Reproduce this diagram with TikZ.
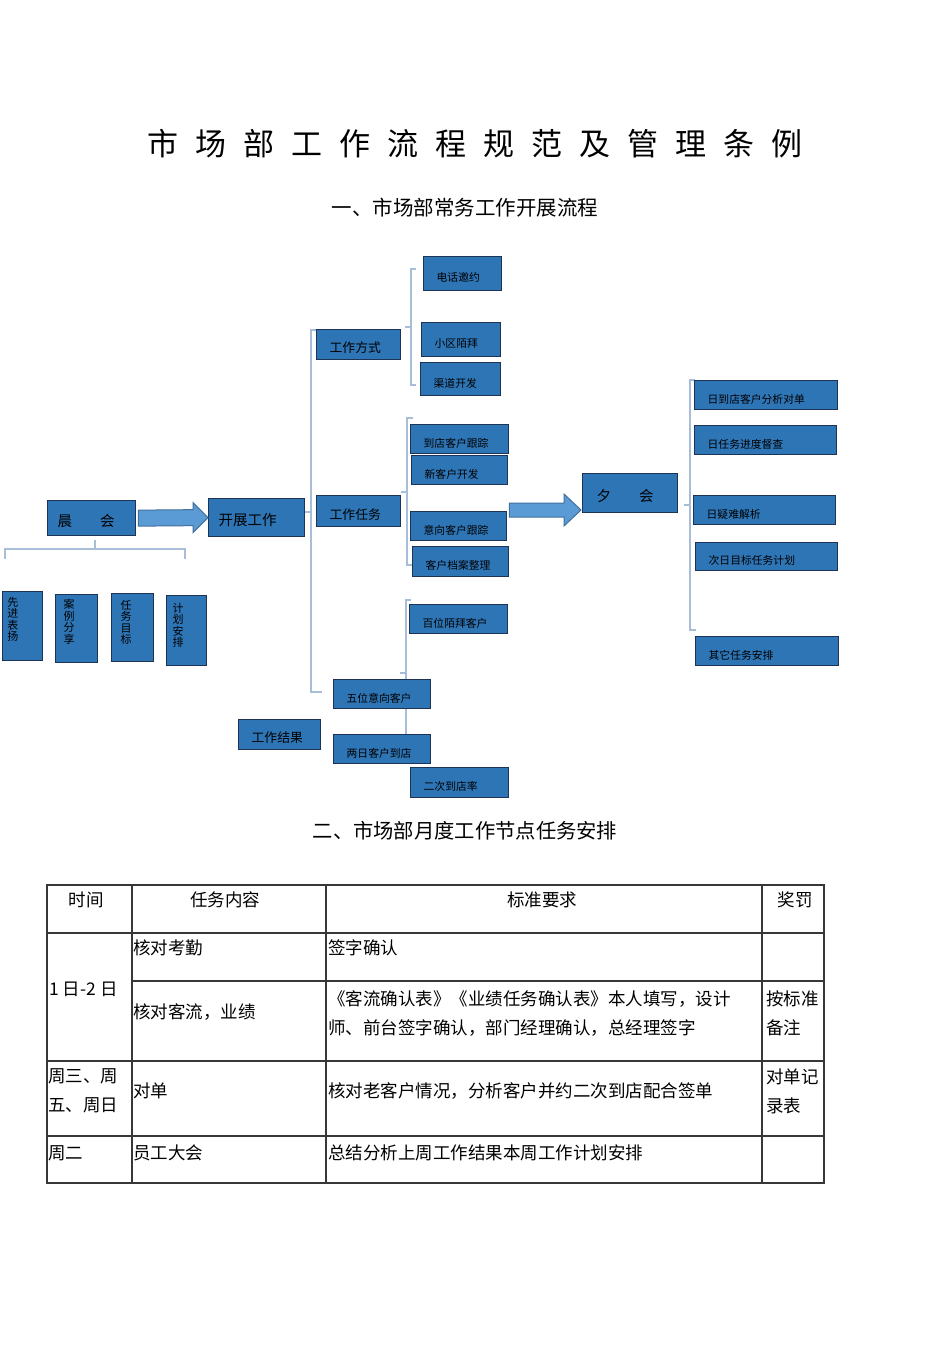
\documentclass[tikz,border=0pt]{standalone}
\usepackage{fontspec}
\setmainfont{Noto Sans CJK SC}
\usetikzlibrary{calc}
\definecolor{boxBlue}{RGB}{46,117,182}
\definecolor{boxEdge}{RGB}{30,52,86}
\definecolor{arrowBlue}{RGB}{91,155,213}
\definecolor{arrowEdge}{RGB}{65,113,156}
\definecolor{braceBlue}{RGB}{168,190,216}
\definecolor{gridGray}{RGB}{55,55,55}

\begin{document}
\begin{tikzpicture}[x=1pt, y=-1pt,
  box/.style={draw=boxEdge, fill=boxBlue, line width=1.3pt, anchor=north west,
              inner xsep=13pt, inner ysep=0pt, text height=16pt, text depth=0pt,
              align=left, font=\fontsize{10.8}{13}\selectfont},
  midbox/.style={box, font=\fontsize{12.8}{15}\selectfont},
  bigbox/.style={box, inner xsep=10pt, font=\fontsize{14.5}{17}\selectfont},
  tallbox/.style={draw=boxEdge, fill=boxBlue, line width=1.3pt, anchor=north west},
  vtext/.style={anchor=north, align=center, inner sep=0pt, font=\fontsize{11}{11.5}\selectfont},
  brace/.style={draw=braceBlue, line width=1.6pt},
  fat/.style={draw=arrowEdge, fill=arrowBlue, line width=1pt, line join=miter},
  grid/.style={draw=gridGray, line width=1.2pt},
  cell/.style={anchor=west, inner sep=0pt, align=left, font=\fontsize{17.5}{29}\selectfont},
  head/.style={cell, anchor=center}
]
\path[fill=white, use as bounding box] (0,0) rectangle (950,1345);

\node[font=\fontsize{31}{36}\selectfont] (title) at (475,144)
  {市\hskip17pt 场\hskip17pt 部\hskip17pt 工\hskip17pt 作\hskip17pt 流\hskip17pt 程\hskip17pt
   规\hskip17pt 范\hskip17pt 及\hskip17pt 管\hskip17pt 理\hskip17pt 条\hskip17pt 例};
\node[font=\fontsize{20.5}{24}\selectfont] (sub1) at (465,208) {一、市场部常务工作开展流程};

% brackets
\draw[brace] (317,330) -- (311,330) -- (311,692) -- (322,692);
\draw[brace] (311,512) -- (304,512);
\draw[brace] (416,269) -- (411,269) -- (411,385) -- (416,385);
\draw[brace] (411,327) -- (405,327);
\draw[brace] (413,418) -- (407,418) -- (407,565) -- (413,565);
\draw[brace] (407,492) -- (401,492);
\draw[brace] (695,380) -- (690,380) -- (690,630) -- (696,630);
\draw[brace] (690,505) -- (684,505);
\draw[brace] (5,559) -- (5,549) -- (185,549) -- (185,559);
\draw[brace] (95,549) -- (95,540);
\draw[brace] (411,600) -- (406,600) -- (406,740);
\draw[brace] (406,673) -- (400,673);

\node[bigbox, text width=68pt, minimum height=35pt] (chenhui) at (47,500) {晨\hskip28pt 会};
\node[bigbox, text width=76pt, minimum height=38pt] (kaizhan) at (208,498) {开展工作};
\node[midbox, text width=58pt, minimum height=30pt] (fangshi) at (316,329) {工作方式};
\node[midbox, text width=58pt, minimum height=31pt] (renwu) at (316,495) {工作任务};
\node[box, text width=52pt, minimum height=34pt] (dianhua) at (423,256) {电话邀约};
\node[box, text width=53pt, minimum height=34pt] (xiaoqu) at (421,322) {小区陌拜};
\node[box, text width=54pt, minimum height=33pt] (qudao) at (420,362) {渠道开发};
\node[box, text width=72pt, minimum height=29pt] (daodian) at (410,424) {到店客户跟踪};
\node[box, text width=70pt, minimum height=29pt] (xinkehu) at (411,455) {新客户开发};
\node[box, text width=70pt, minimum height=29pt] (yixiang) at (410,511) {意向客户跟踪};
\node[box, text width=70pt, minimum height=30pt] (dangan) at (412,546) {客户档案整理};
\node[bigbox, inner xsep=14pt, text width=67pt, minimum height=39pt] (xihui) at (582,473) {夕\hskip28pt 会};
\node[box, text width=117pt, minimum height=29pt] (duidan) at (694,380) {日到店客户分析对单};
\node[box, text width=116pt, minimum height=29pt] (ducha) at (694,425) {日任务进度督查};
\node[box, text width=116pt, minimum height=29pt] (yinan) at (693,495) {日疑难解析};
\node[box, text width=116pt, minimum height=28pt] (ciri) at (695,542) {次日目标任务计划};
\node[box, text width=117pt, minimum height=29pt] (qita) at (695,636) {其它任务安排};
\node[box, text width=72pt, minimum height=29pt] (baiwei) at (409,604) {百位陌拜客户};
\node[box, text width=71pt, minimum height=29pt] (wuwei) at (333,679) {五位意向客户};
\node[midbox, text width=56pt, minimum height=30pt] (jieguo) at (238,719) {工作结果};
\node[box, text width=71pt, minimum height=29pt] (liangri) at (333,734) {两日客户到店};
\node[box, text width=72pt, minimum height=30pt] (erci) at (410,767) {二次到店率};

\node[tallbox, minimum width=40pt, minimum height=69pt] (xianjin) at (2,591) {};
\node[tallbox, minimum width=42pt, minimum height=68pt] (anli) at (55,594) {};
\node[tallbox, minimum width=42pt, minimum height=68pt] (mubiao) at (111,593) {};
\node[tallbox, minimum width=40pt, minimum height=70pt] (anpai) at (166,595) {};
\node[vtext] (xianjin-t) at ($(xianjin.north west)+(11,6)$) {先\\进\\表\\扬};
\node[vtext] (anli-t) at ($(anli.north west)+(14,5)$) {案\\例\\分\\享};
\node[vtext] (mubiao-t) at ($(mubiao.north west)+(15,7)$) {任\\务\\目\\标};
\node[vtext] (anpai-t) at ($(anpai.north west)+(12,8)$) {计\\划\\安\\排};

\draw[fat] ($(chenhui.east)+(2,-8)$) -- ($(kaizhan.west)+(-15,-8)$) -- ($(kaizhan.west)+(-15,-15)$)
  -- (kaizhan.west) -- ($(kaizhan.west)+(-15,15)$) -- ($(kaizhan.west)+(-15,8)$)
  -- ($(chenhui.east)+(2,8)$) -- cycle;
\coordinate (a2s) at ($(yixiang.north east)+(2,-1)$);
\coordinate (a2e) at ($(xihui.south west)+(-1,-3.3)$);
\draw[fat] ($(a2s)+(0,-7)$) -- ($(a2e)+(-17,-7)$) -- ($(a2e)+(-17,-16)$)
  -- (a2e) -- ($(a2e)+(-17,16)$) -- ($(a2e)+(-17,7)$) -- ($(a2s)+(0,7)$) -- cycle;

\node[font=\fontsize{20.3}{24}\selectfont] (sub2) at (465,831) {二、市场部月度工作节点任务安排};

% table
\draw[grid] (47,885) rectangle (824,1183);
\draw[grid] (47,933) -- (824,933);
\draw[grid] (132,981) -- (824,981);
\draw[grid] (47,1061) -- (824,1061);
\draw[grid] (47,1136) -- (824,1136);
\draw[grid] (132,885) -- (132,1183);
\draw[grid] (326,885) -- (326,1183);
\draw[grid] (762,885) -- (762,1183);

\node[head] (h1) at (86,900) {时间};
\node[head] (h2) at (225,900) {任务内容};
\node[head] (h3) at (542,900) {标准要求};
\node[head] (h4) at (795,900) {奖罚};
\node[cell] (c21) at (133,948) {核对考勤};
\node[cell] (c22) at (328,948) {签字确认};
\node[cell] (c30) at (49,989) {1 日-2 日};
\node[cell] (c31) at (133,1012) {核对客流，业绩};
\node[cell] (c32) at (328,1013) {《客流确认表》《业绩任务确认表》本人填写，设计\\师、前台签字确认，部门经理确认，总经理签字};
\node[cell] (c33) at (766,1013) {按标准\\备注};
\node[cell] (c40) at (48,1091) {周三、周\\五、周日};
\node[cell] (c41) at (133,1091) {对单};
\node[cell] (c42) at (328,1091) {核对老客户情况，分析客户并约二次到店配合签单};
\node[cell] (c43) at (766,1091) {对单记\\录表};
\node[cell] (c50) at (48,1153) {周二};
\node[cell] (c51) at (133,1153) {员工大会};
\node[cell] (c52) at (328,1153) {总结分析上周工作结果本周工作计划安排};
\end{tikzpicture}
\end{document}
